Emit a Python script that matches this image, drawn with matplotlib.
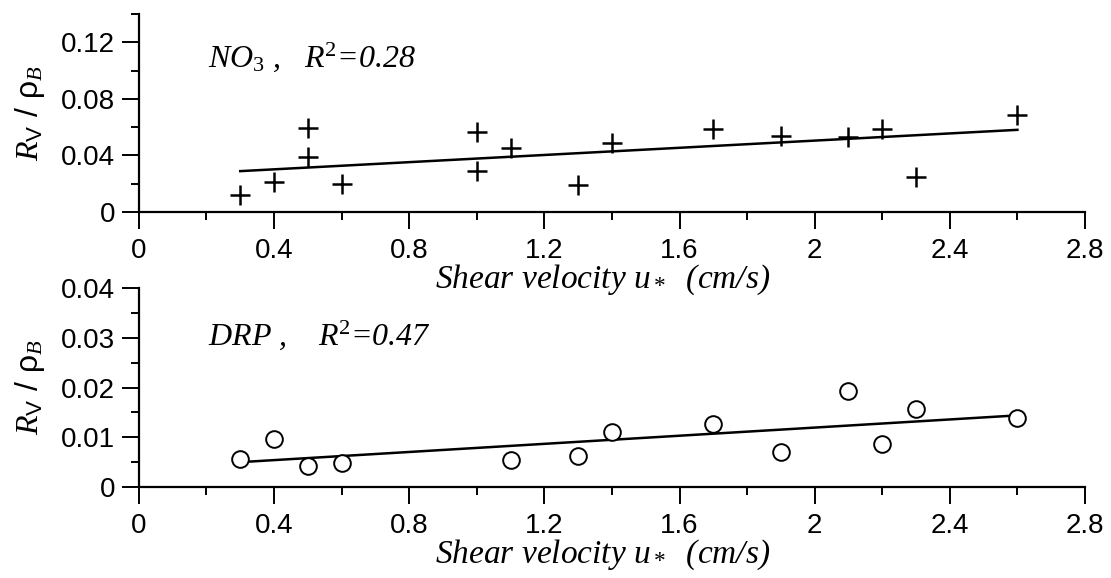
import matplotlib
matplotlib.use("Agg")
from matplotlib import pyplot as plt
from matplotlib.ticker import MultipleLocator

plt.rcParams['mathtext.fontset'] = 'custom'
plt.rcParams['mathtext.rm'] = 'Liberation Serif'
plt.rcParams['mathtext.it'] = 'Liberation Serif:italic'
plt.rcParams['mathtext.sf'] = 'Liberation Sans'

# NO3 panel
no3_x = [0.3, 0.4, 0.5, 0.5, 0.6, 1.0, 1.0, 1.1, 1.3, 1.4, 1.7, 1.9, 2.1, 2.2, 2.3, 2.6]
no3_y = [0.0122, 0.0212, 0.0593, 0.0388, 0.0198, 0.0565, 0.0287, 0.0452,
         0.0188, 0.0485, 0.0584, 0.0536, 0.0532, 0.0588, 0.0249, 0.0687]
no3_fit_x = [0.3, 2.6]
no3_fit_y = [0.0289, 0.0581]

# DRP panel
drp_x = [0.3, 0.4, 0.5, 0.6, 1.1, 1.3, 1.4, 1.7, 1.9, 2.1, 2.2, 2.3, 2.6]
drp_y = [0.0056, 0.0096, 0.0043, 0.0049, 0.0054, 0.0063, 0.0111, 0.0127,
         0.0070, 0.0194, 0.0086, 0.0157, 0.0138]
drp_fit_x = [0.3, 2.6]
drp_fit_y = [0.0050, 0.0144]

x_ticks = [0, 0.4, 0.8, 1.2, 1.6, 2.0, 2.4, 2.8]
x_labels = ['0', '0.4', '0.8', '1.2', '1.6', '2', '2.4', '2.8']

fig = plt.figure(figsize=(11.11, 5.78), dpi=100)
ax1 = fig.add_axes([0.125, 0.6332, 0.8516, 0.3426])
ax2 = fig.add_axes([0.125, 0.1574, 0.8516, 0.3443])
ax2.patch.set_visible(False)

serif = {'family': 'Liberation Serif', 'style': 'italic'}


def style(ax, ymax, ymajor, yminor, ylabels):
    ax.set_xlim(0, 2.8)
    ax.set_ylim(0, ymax)
    for s in ['top', 'right']:
        ax.spines[s].set_visible(False)
    for s in ['left', 'bottom']:
        ax.spines[s].set_linewidth(1.6)
    ax.set_xticks(x_ticks)
    ax.set_xticklabels(x_labels)
    ax.xaxis.set_minor_locator(MultipleLocator(0.2))
    ax.set_yticks(ymajor)
    ax.set_yticklabels(ylabels)
    ax.yaxis.set_minor_locator(MultipleLocator(yminor))
    ax.tick_params(which='major', direction='out', length=12, width=1.4,
                   labelsize=20, pad=5)
    ax.tick_params(which='minor', direction='out', length=6, width=1.4)
    ax.tick_params(axis='x', which='major', pad=7)
    for lab in ax.get_xticklabels() + ax.get_yticklabels():
        lab.set_family('Liberation Sans')
    ax.set_xlabel('Shear velocity $u_*$  (cm/s)', fontsize=24, fontdict=serif,
                  labelpad=-1, x=0.49)
    ax.set_ylabel(r'$R_{\mathsf{V}}$ / $\mathsf{\rho}_B$', fontsize=23,
                  family='Liberation Sans', labelpad=10)


ax1.plot(no3_x, no3_y, linestyle='none', marker='+', markersize=14,
         markeredgewidth=1.8, color='black')
ax1.plot(no3_fit_x, no3_fit_y, color='black', linewidth=1.8)
style(ax1, 0.14, [0, 0.04, 0.08, 0.12], 0.02, ['0', '0.04', '0.08', '0.12'])
ax1.text(0.205, 0.1025, r'NO$_{\mathit{3}}$ ,   R$^{2}$=0.28', fontsize=23,
         fontdict=serif)

ax2.plot(drp_x, drp_y, linestyle='none', marker='o', markersize=12,
         markerfacecolor='white', markeredgewidth=1.4, color='black', zorder=3)
ax2.plot(drp_fit_x, drp_fit_y, color='black', linewidth=1.8)
style(ax2, 0.04, [0, 0.01, 0.02, 0.03, 0.04], 0.005,
      ['0', '0.01', '0.02', '0.03', '0.04'])
ax2.text(0.205, 0.0285, r'DRP ,    R$^{2}$=0.47', fontsize=23, fontdict=serif)

fig.savefig('out.png', dpi=100)
